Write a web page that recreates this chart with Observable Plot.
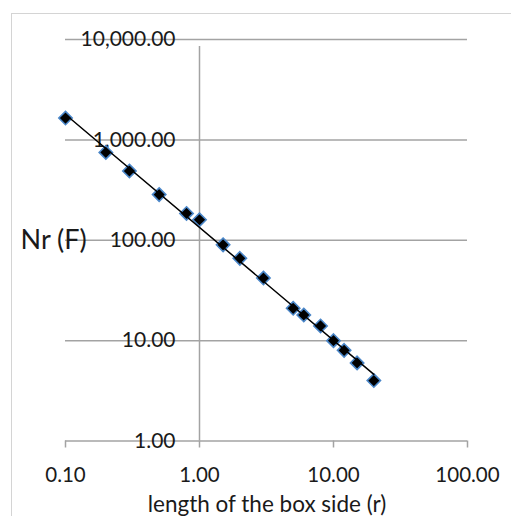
<!DOCTYPE html>
<html>
<head>
<meta charset="utf-8">
<script src="https://cdn.jsdelivr.net/npm/d3@7"></script>
<script src="https://cdn.jsdelivr.net/npm/@observablehq/plot@0.6"></script>
<style>
  html, body { margin: 0; padding: 0; background: #fff; overflow: hidden; }
  #wrap { position: relative; width: 511px; height: 516px; }
  #border { position: absolute; left: 11px; top: 13px; width: 600px; height: 600px; border: 1px solid #d4d4d4; box-sizing: border-box; pointer-events: none; }
  #chart { position: absolute; left: 0; top: 0; }
</style>
</head>
<body>
<div id="wrap"><div id="border"></div><div id="chart"></div></div>
<script>
// Box-counting data: box side length r and count Nr(F)
const boxSide = [0.1, 0.2, 0.3, 0.5, 0.8, 1, 1.5, 2, 3, 5, 6, 8, 10, 12, 15, 20];
const boxCount = [1650, 750, 490, 285, 185, 160, 90, 66, 42, 21, 18, 14, 10, 8, 6, 4];

const xTicks = [0.1, 1, 10, 100];
const xTickLabels = ["0.10", "1.00", "10.00", "100.00"];
const yTicks = [1, 10, 100, 1000, 10000];
const yTickLabels = ["1.00", "10.00", "100.00", "1,000.00", "10,000.00"];
const yGrid = [10, 100, 1000, 10000];

const xTitle = "length of the box side (r)";
const yTitle = "Nr (F)";

const data = boxSide.map((r, i) => ({r, n: boxCount[i]}));

// Power-law trendline (least squares in log-log space), drawn over the data range
const lx = boxSide.map(Math.log10), ly = boxCount.map(Math.log10);
const mx = d3.mean(lx), my = d3.mean(ly);
const slope = d3.sum(lx, (v, i) => (v - mx) * (ly[i] - my)) / d3.sum(lx, v => (v - mx) ** 2);
const intercept = my - slope * mx;
const [rMin, rMax] = d3.extent(boxSide);
const trend = [rMin, rMax].map(r => ({r, n: Math.pow(10, intercept + slope * Math.log10(r))}));

const font = "Lato, 'Open Sans', sans-serif";
const gray = "#a3a3a3";
const ink = "#1a1a1a";

const plot = Plot.plot({
  width: 511,
  height: 516,
  marginTop: 0, marginRight: 0, marginBottom: 0, marginLeft: 0,
  style: {fontFamily: font, background: "transparent", overflow: "visible"},
  x: {type: "log", domain: [0.1, 100], range: [65, 467], axis: null},
  y: {type: "log", domain: [1, 10000], range: [440.5, 39], axis: null},
  marks: [
    // horizontal gridlines
    Plot.ruleY(yGrid, {y: d => d, x1: 0.1, x2: 100, stroke: gray, strokeWidth: 1.5}),
    // x axis line at y = 1
    Plot.ruleY([1], {x1: 0.1, x2: 100, stroke: gray, strokeWidth: 1.5}),
    // x tick marks
    Plot.ruleX(xTicks, {x: d => d, y1: 1, y2: 1, insetBottom: -7, stroke: gray, strokeWidth: 1.5}),
    // y axis line at x = 1
    Plot.ruleX([1], {y1: 1, y2: 10000, insetBottom: -7, stroke: gray, strokeWidth: 1.5}),
    // y tick labels
    Plot.text(yTicks, {x: 1, y: d => d, text: (d, i) => yTickLabels[i], textAnchor: "end", dx: -24, fontSize: 21, fill: ink}),
    // x tick labels
    Plot.text(xTicks, {x: d => d, y: 1, text: (d, i) => xTickLabels[i], dy: 34, fontSize: 20.5, fill: ink}),
    // markers
    Plot.dot(data, {x: "r", y: "n", symbol: "diamond2", r: 6, fill: "black", stroke: "#4a86c8", strokeWidth: 1.6}),
    // trendline
    Plot.line(trend, {x: "r", y: "n", stroke: "black", strokeWidth: 1.5}),
    // axis titles
    Plot.text([yTitle], {frameAnchor: "left", text: d => d, textAnchor: "start", dx: 20, dy: -18, fontSize: 27, fill: ink}),
    Plot.text([xTitle], {frameAnchor: "bottom", text: d => d, lineAnchor: "bottom", dx: 11, dy: -5, fontSize: 22.5, fill: ink})
  ]
});
document.getElementById("chart").appendChild(plot);
</script>
</body>
</html>
